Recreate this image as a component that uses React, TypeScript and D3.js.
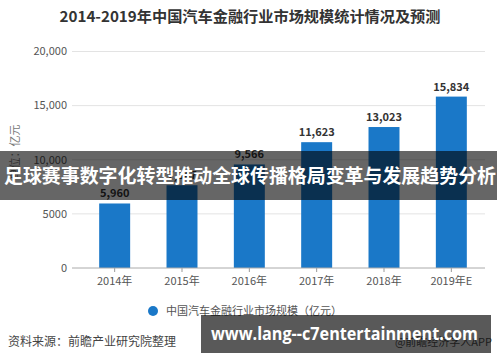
import React from "react";
import * as d3 from "d3";

const categories = ["2014年", "2015年", "2016年", "2017年", "2018年", "2019年E"];
const values = [5960, 7647, 9566, 11623, 13023, 15834];
const yTicks = [0, 5000, 10000, 15000, 20000];
const title = "2014-2019年中国汽车金融行业市场规模统计情况及预测";
const legendLabel = "中国汽车金融行业市场规模（亿元）";
const yLabel = "单位：亿元";
const source = "资料来源：前瞻产业研究院整理";
const credit = "@前瞻经济学人APP";
const overlayText = "足球赛事数字化转型推动全球传播格局变革与发展趋势分析";
const urlText = "www.lang--c7entertainment.com";

const W = 500, H = 362;
const FONT = "'Noto Sans CJK SC', 'Noto Sans', sans-serif";

export default function App() {
  const x = d3.scaleBand<string>().domain(categories).range([81, 485]).paddingInner(0.54).paddingOuter(0.27);
  const y = d3.scaleLinear().domain([0, 20000]).range([268, 51.5]);
  const fmt = d3.format(",");
  const tickFmt = (v: number) => (v >= 10000 ? d3.format(",")(v) : String(v));
  const bw = x.bandwidth();
  return (
    <svg width={W} height={H} style={{ position: "absolute", left: 0, top: 0, background: "#fff" }} fontFamily={FONT}>
      <rect x={0} y={0} width={W} height={H} fill="#fff" />
      <text x={250} y={22} textAnchor="middle" fontSize={15} fontWeight="bold" fill="#333" textLength={381} lengthAdjust="spacingAndGlyphs">{title}</text>
      {yTicks.map((t) => (
        <g key={t}>
          {t !== 0 && <line x1={72} x2={485} y1={y(t)} y2={y(t)} stroke="#e3e3e3" strokeWidth={1} />}
          <text x={67} y={y(t)} dy="0.35em" textAnchor="end" fontSize={11} fill="#555">{tickFmt(t)}</text>
        </g>
      ))}
      <text transform={`translate(19,152) rotate(-90)`} textAnchor="middle" fontSize={11} fill="#777">{yLabel}</text>
      {categories.map((c, i) => (
        <g key={c}>
          <rect x={x(c)!} y={y(values[i])} width={bw} height={y(0) - y(values[i])} fill="#1a78c8" />
          <text x={x(c)! + bw / 2} y={y(values[i]) - 6} textAnchor="middle" fontSize={11} fontWeight="bold" fill="#333">{fmt(values[i])}</text>
          <line x1={x(c)! + bw / 2} x2={x(c)! + bw / 2} y1={268} y2={272} stroke="#999" />
          <text x={x(c)! + bw / 2} y={285} textAnchor="middle" fontSize={11} fill="#555">{c}</text>
        </g>
      ))}
      <line x1={72} x2={485} y1={268} y2={268} stroke="#aaa" strokeWidth={1} />
      <circle cx={153} cy={311} r={5} fill="#1a78c8" />
      <text x={166} y={311} dy="0.35em" fontSize={11} fill="#555">{legendLabel}</text>
      <text x={8} y={342} dy="0.35em" fontSize={12} fill="#444">{source}</text>
      <text x={492} y={342} dy="0.35em" textAnchor="end" fontSize={11} fill="#555">{credit}</text>
      <rect x={0} y={151} width={497} height={49} fill="rgba(0,0,0,0.6)" />
      <text x={250} y={176} dy="0.35em" textAnchor="middle" fontSize={19} fontWeight="bold" fill="#fff" textLength={492} lengthAdjust="spacingAndGlyphs">{overlayText}</text>
      <rect x={201} y={315} width={290} height={38} fill="rgba(0,0,0,0.65)" />
      <text x={211} y={334} dy="0.35em" fontSize={17} fontWeight="bold" fill="#fff" fontFamily="'Open Sans', 'Noto Sans', sans-serif" textLength={267} lengthAdjust="spacingAndGlyphs">{urlText}</text>
    </svg>
  );
}
